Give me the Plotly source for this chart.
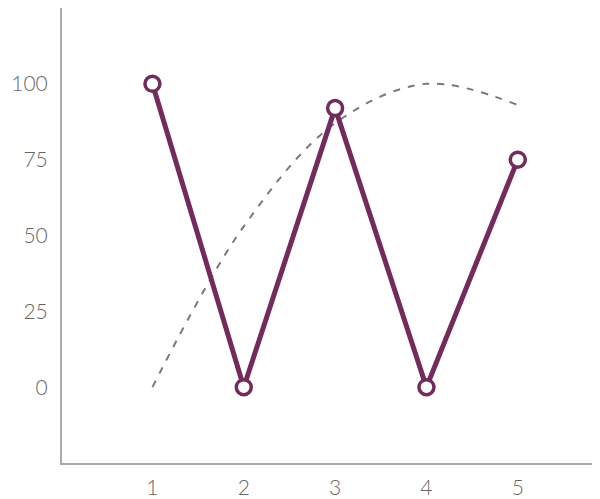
import plotly.graph_objects as go

# Data
x_vals = [1, 2, 3, 4, 5]
w_values = [100, 0, 92, 0, 75]
trend_values = [0, 53, 87, 100, 93]

y_ticks = [0, 25, 50, 75, 100]
x_ticks = [1, 2, 3, 4, 5]

purple = '#722b5c'

fig = go.Figure()

# Dashed trend curve
fig.add_trace(go.Scatter(
    x=x_vals, y=trend_values, mode='lines',
    line=dict(color='#7a7a7a', width=2, dash='7px,8px', shape='spline'),
    showlegend=False, hoverinfo='skip'
))

# Purple W line with open circles
fig.add_trace(go.Scatter(
    x=x_vals, y=w_values, mode='lines+markers',
    line=dict(color=purple, width=5),
    marker=dict(symbol='circle', size=15, color='white',
                line=dict(color=purple, width=3.5)),
    showlegend=False, cliponaxis=False
))

# the page body has an 8px margin, so the figure is 8px smaller
fig.update_layout(
    width=592, height=491,
    margin=dict(l=54, r=0, t=0, b=36),
    paper_bgcolor='white', plot_bgcolor='white',
    font=dict(family='Lato, sans-serif', size=21, color='#666666', weight=300),
    xaxis=dict(range=[0.01, 5.9], tickvals=x_ticks, showgrid=False,
               zeroline=False, showline=True, linecolor='#aaaaaa',
               linewidth=2, ticks='', ticklabelstandoff=5, automargin=False),
    yaxis=dict(range=[-25, 125], tickvals=y_ticks, showgrid=False,
               zeroline=False, showline=True, linecolor='#aaaaaa',
               linewidth=2, ticks='', ticklabelstandoff=8, automargin=False),
)

fig.write_html("out.html")
